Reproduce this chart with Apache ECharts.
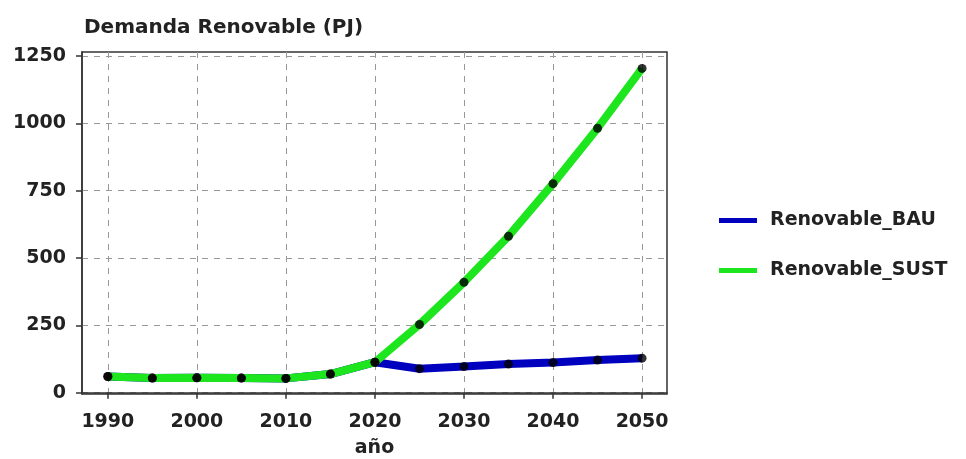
<!DOCTYPE html>
<html><head><meta charset="utf-8">
<script src="https://cdn.jsdelivr.net/npm/echarts@6/dist/echarts.min.js"></script>
<style>html,body{margin:0;padding:0;background:#fff}#c{width:966px;height:459px}</style>
</head><body><div id="c"></div>
<script>
const years = [1990,1995,2000,2005,2010,2015,2020,2025,2030,2035,2040,2045,2050];
const bau  = [60,54,55,54,53,69,113,89,97,106,112,121,128];
const sust = [60,54,55,54,53,69,113,253,410,581,776,982,1204];
const xTicks = [1990,2000,2010,2020,2030,2040,2050];
const yTicks = [0,250,500,750,1000,1250];
const seriesNames = ['Renovable_BAU','Renovable_SUST'];
const colors = ['#0000bf','#1ee61e'];

const pairs = v => years.map((y,i)=>[y,v[i]]);
const chart = echarts.init(document.getElementById('c'));
const font = 'DejaVu Sans, sans-serif';
chart.setOption({
  animation:false,
  title:{text:'Demanda Renovable (PJ)',left:79,top:13,textStyle:{fontFamily:font,fontSize:20,fontWeight:'bold',color:'#222'}},
  legend:{orient:'vertical',left:714,top:206,itemWidth:38,itemHeight:5,itemGap:31,icon:'rect',
    textStyle:{fontFamily:font,fontSize:19,fontWeight:'bold',color:'#222',padding:[0,0,0,8]},
    data:seriesNames.map((n,i)=>({name:n,itemStyle:{color:colors[i]}}))},
  grid:{left:82,top:52,right:299,bottom:65,outerBoundsMode:'none',containLabel:false,show:true,borderColor:'#333',borderWidth:1.5,backgroundColor:'#fff'},
  xAxis:{type:'value',min:1987.1,max:2052.8,name:'año',nameLocation:'middle',nameGap:45,
    nameTextStyle:{fontFamily:font,fontSize:19,fontWeight:'bold',color:'#222'},
    axisLine:{show:true,lineStyle:{color:'#333',width:1.5}},
    axisTick:{show:true,length:6,customValues:xTicks,lineStyle:{color:'#333',width:1.5}},
    axisLabel:{customValues:xTicks,formatter:v=>String(v),fontFamily:font,fontSize:19,fontWeight:'bold',color:'#222',margin:19},
    splitLine:{show:true,lineStyle:{color:'#999',type:[6,6],width:1}}},
  yAxis:{type:'value',min:-5,max:1265,
    axisLine:{show:true,lineStyle:{color:'#333',width:1.5}},
    axisTick:{show:true,length:6,customValues:yTicks,lineStyle:{color:'#333',width:1.5}},
    axisLabel:{customValues:yTicks,formatter:v=>String(v),fontFamily:font,fontSize:19,fontWeight:'bold',color:'#222',margin:16},
    splitLine:{show:true,lineStyle:{color:'#999',type:[6,6],width:1}}},
  series:[
    {name:seriesNames[0],type:'line',data:pairs(bau),showSymbol:false,lineStyle:{width:8,color:colors[0]},itemStyle:{color:colors[0]},z:2},
    {name:seriesNames[1],type:'line',data:pairs(sust),showSymbol:false,lineStyle:{width:8,color:colors[1]},itemStyle:{color:colors[1]},z:3},
    {name:'m1',type:'scatter',data:pairs(bau),symbolSize:9,itemStyle:{color:'#000'},z:4},
    {name:'m2',type:'scatter',data:pairs(sust),symbolSize:9,itemStyle:{color:'#000'},z:4}
  ]
});
</script></body></html>
